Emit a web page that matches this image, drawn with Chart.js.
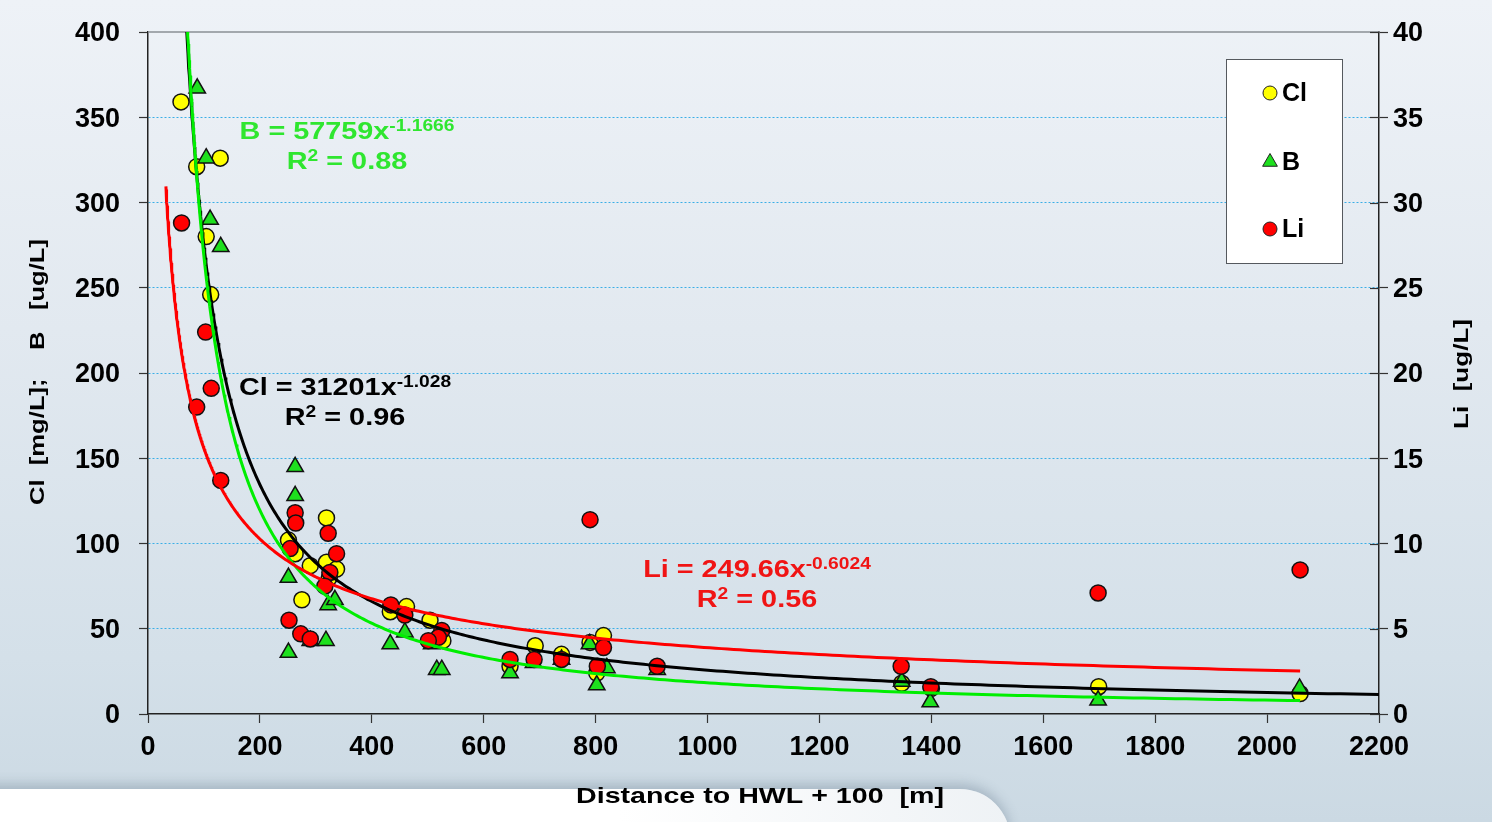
<!DOCTYPE html>
<html>
<head>
<meta charset="utf-8">
<title>Cl, B and Li versus distance to HWL</title>
<script src="https://cdn.jsdelivr.net/npm/chart.js@4.4.1/dist/chart.umd.min.js"></script>
<style>
  html, body { margin: 0; padding: 0; width: 1492px; height: 822px; overflow: hidden; }
  body {
    position: relative;
    background: linear-gradient(180deg, #eef2f7 0%, #e2e9f0 40%, #d4e0e9 80%, #cbd9e3 100%);
  }
  #band {
    position: absolute; left: -20px; top: 789px; width: 1030px; height: 140px;
    background: linear-gradient(90deg, #ffffff 0%, #ffffff 62%, #eef2f5 100%);
    border-top-right-radius: 50px;
    box-shadow: 0 -5px 12px rgba(70, 90, 110, 0.28);
  }
  #chart { position: absolute; left: 0; top: 0; }
</style>
</head>
<body>
<div id="band"></div>
<canvas id="chart" width="1492" height="822"></canvas>
<script>
// ---- Measured samples: distance (m) and concentration ----
const clX = [59, 87, 129, 104, 112, 251, 263, 290, 275, 319, 319, 337, 324, 433, 462, 504, 527, 647, 692, 739, 790, 814, 802, 1347, 1400, 1699, 2059];
const clY = [359, 321, 326, 280, 246, 102, 94, 87, 67, 115, 89, 85, 80, 60, 63, 55, 43, 28, 40, 35, 42, 46, 24, 18, 15, 16, 12];

const bX = [88, 104, 111, 130, 263, 263, 251, 251, 290, 318, 322, 334, 433, 459, 507, 516, 525, 647, 689, 739, 789, 802, 820, 910, 1347, 1398, 1698, 2058];
const bY = [367, 326, 290, 274, 145, 128, 80, 36, 43, 43, 64, 67, 41, 48, 41, 26, 26, 24, 30, 32, 41, 17, 27, 26, 19, 7, 8, 15];

const liX = [60, 103, 113, 87, 130, 263, 264, 254, 322, 337, 325, 316, 252, 273, 290, 434, 459, 525, 519, 501, 647, 690, 739, 814, 803, 790, 910, 1346, 1399, 1698, 2059];
const liY = [28.8, 22.4, 19.1, 18.0, 13.7, 11.8, 11.2, 9.7, 10.6, 9.4, 8.3, 7.5, 5.5, 4.7, 4.4, 6.4, 5.8, 4.9, 4.5, 4.3, 3.2, 3.2, 3.2, 3.9, 2.8, 11.4, 2.8, 2.8, 1.6, 7.1, 8.45];

// ---- Power-law fits y = a * x^b, with R² and the distance span of each curve ----
const clFit = [31201, -1.028];
const bFit = [57759, -1.1666];
const liFit = [249.66, -0.6024];
const fitR2 = ['0.96', '0.88', '0.56'];
const clSpan = [32, 2200];
const bSpan = [32, 2059];
const liSpan = [32, 2059];

// ---- Axis ticks ----
const xTicks = [0, 200, 400, 600, 800, 1000, 1200, 1400, 1600, 1800, 2000, 2200];
const leftTicks = [0, 50, 100, 150, 200, 250, 300, 350, 400];
const rightTicks = [0, 5, 10, 15, 20, 25, 30, 35, 40];

const FONT = '"Liberation Sans", Arial, sans-serif';

function toPoints(xs, ys) {
  return xs.map((x, i) => ({ x: x, y: ys[i] }));
}
function fitCurve(fit, span) {
  const out = [];
  const n = 400;
  for (let i = 0; i <= n; i++) {
    const x = span[0] * Math.pow(span[1] / span[0], i / n);
    out.push({ x: x, y: fit[0] * Math.pow(x, fit[1]) });
  }
  return out;
}

const GREEN_LINE = '#00ee00';
const GREEN_MARK = '#1ee01e';
const GREEN_TEXT = '#2fe62f';
const RED = '#ff0000';
const RED_TEXT = '#f01414';
const YELLOW = '#ffff00';

// Text drawn wide (stretched along its direction), centred on (x, y)
function wideText(ctx, text, x, y, size, k, rot) {
  ctx.save();
  ctx.translate(x, y);
  ctx.rotate(rot || 0);
  ctx.scale(k, 1);
  ctx.font = 'bold ' + size + 'px ' + FONT;
  ctx.fillStyle = '#000';
  ctx.textAlign = 'center';
  ctx.textBaseline = 'middle';
  ctx.fillText(text, 0, 0);
  ctx.restore();
}

// Extra drawing: top frame, inner right ticks, legend, fit equations, axis titles
const decor = {
  id: 'decor',
  beforeDatasetsDraw(chart) {
    const { ctx, chartArea: a, scales } = chart;
    ctx.save();
    ctx.strokeStyle = '#8a8f94';
    ctx.lineWidth = 1.5;
    ctx.beginPath();
    ctx.moveTo(a.left, a.top);
    ctx.lineTo(a.right, a.top);
    ctx.stroke();
    // right axis ticks also reach into the plot
    ctx.strokeStyle = '#333';
    ctx.lineWidth = 1.2;
    rightTicks.forEach(v => {
      const y = Math.round(scales.y2.getPixelForValue(v)) + 0.5;
      ctx.beginPath();
      ctx.moveTo(a.right - 9, y);
      ctx.lineTo(a.right, y);
      ctx.stroke();
    });
    ctx.restore();
  },
  afterDraw(chart) {
    const { ctx } = chart;
    ctx.save();

    // legend
    const lx = 1226.5, ly = 59.5, lw = 116, lh = 204;
    ctx.fillStyle = '#ffffff';
    ctx.fillRect(lx, ly, lw, lh);
    ctx.strokeStyle = '#55595e';
    ctx.lineWidth = 1;
    ctx.strokeRect(lx, ly, lw, lh);
    const items = [
      { t: 'Cl', style: 'circle', fill: YELLOW, y: 93, r: 7 },
      { t: 'B', style: 'triangle', fill: GREEN_MARK, y: 162, r: 8.5 },
      { t: 'Li', style: 'circle', fill: RED, y: 229, r: 7 }
    ];
    items.forEach(it => {
      ctx.fillStyle = it.fill;
      ctx.strokeStyle = '#222';
      ctx.lineWidth = 1;
      Chart.helpers.drawPoint(ctx, { pointStyle: it.style, radius: it.r, borderWidth: 1, rotation: 0 }, 1270, it.y);
      ctx.fillStyle = '#000';
      ctx.font = 'bold 25px ' + FONT;
      ctx.textBaseline = 'middle';
      ctx.textAlign = 'left';
      ctx.fillText(it.t, 1282, it.y + 1);
    });

    // fit equations: main text 24px, exponents 16px, stretched 1.2x
    const K = 1.2;
    function line(parts, cx, cy, color) {
      const big = 'bold 24px ' + FONT, small = 'bold 16px ' + FONT;
      let w = 0;
      parts.forEach(p => { ctx.font = p.s ? small : big; w += ctx.measureText(p.t).width; });
      ctx.save();
      ctx.translate(cx - (w * K) / 2, cy + 8.5);
      ctx.scale(K, 1);
      ctx.fillStyle = color;
      ctx.textAlign = 'left';
      ctx.textBaseline = 'alphabetic';
      let x = 0;
      parts.forEach(p => {
        ctx.font = p.s ? small : big;
        ctx.fillText(p.t, x, p.s ? -8 : 0);
        x += ctx.measureText(p.t).width;
      });
      ctx.restore();
    }
    function equation(name, fit, r2, cx, cy, color) {
      line([{ t: name + ' = ' + fit[0] + 'x' }, { t: String(fit[1]), s: true }], cx, cy, color);
      line([{ t: 'R' }, { t: '2', s: true }, { t: ' = ' + r2 }], cx, cy + 30, color);
    }
    equation('B', bFit, fitR2[1], 347, 130, GREEN_TEXT);
    equation('Cl', clFit, fitR2[0], 345, 386, '#000');
    equation('Li', liFit, fitR2[2], 757, 568, RED_TEXT);

    // axis titles
    wideText(ctx, 'Distance to HWL + 100  [m]', 760, 797, 22, 1.3, 0);
    wideText(ctx, 'Cl  [mg/L];    B   [ug/L]', 38, 372, 21, 1.22, -Math.PI / 2);
    wideText(ctx, 'Li  [ug/L]', 1462, 374, 21, 1.24, -Math.PI / 2);
    ctx.restore();
  }
};

const tickFont = { family: FONT, size: 27, weight: 'bold' };
const plainTick = v => String(v);
// fixed axis band sizes; label overhang must not push the plot area
function fixVertical(width) {
  return s => { s.width = width; s.paddingTop = 0; s.paddingBottom = 0; };
}

new Chart(document.getElementById('chart'), {
  type: 'scatter',
  data: {
    datasets: [
      { label: 'Li fit', data: fitCurve(liFit, liSpan), yAxisID: 'y2', showLine: true, borderColor: RED, borderWidth: 3, pointRadius: 0, order: 1 },
      { label: 'B fit', data: fitCurve(bFit, bSpan), yAxisID: 'y', showLine: true, borderColor: GREEN_LINE, borderWidth: 3, pointRadius: 0, order: 2 },
      { label: 'Cl fit', data: fitCurve(clFit, clSpan), yAxisID: 'y', showLine: true, borderColor: '#000', borderWidth: 3, pointRadius: 0, order: 3 },
      { label: 'Li', data: toPoints(liX, liY), yAxisID: 'y2', pointStyle: 'circle', pointRadius: 8, backgroundColor: RED, borderColor: '#111', borderWidth: 1.5, order: 4 },
      { label: 'B', data: toPoints(bX, bY), yAxisID: 'y', pointStyle: 'triangle', pointRadius: 9.5, backgroundColor: GREEN_MARK, borderColor: '#111', borderWidth: 1.5, order: 5 },
      { label: 'Cl', data: toPoints(clX, clY), yAxisID: 'y', pointStyle: 'circle', pointRadius: 8, backgroundColor: YELLOW, borderColor: '#111', borderWidth: 1.5, order: 6 }
    ]
  },
  options: {
    responsive: false,
    animation: false,
    devicePixelRatio: 1,
    layout: { padding: { top: 32, left: 0, right: 0, bottom: 0 } },
    plugins: { legend: { display: false }, tooltip: { enabled: false } },
    scales: {
      x: {
        type: 'linear', position: 'bottom', min: xTicks[0], max: xTicks[xTicks.length - 1],
        afterBuildTicks: s => { s.ticks = xTicks.map(v => ({ value: v })); },
        ticks: { font: tickFont, color: '#000', padding: 8, maxRotation: 0, autoSkip: false, callback: plainTick },
        grid: { drawOnChartArea: false, tickLength: 9, tickColor: '#333', tickWidth: 1.2 },
        border: { color: '#222', width: 1.5 },
        afterFit: s => { s.height = 108; }
      },
      y: {
        type: 'linear', position: 'left', min: leftTicks[0], max: leftTicks[leftTicks.length - 1],
        afterBuildTicks: s => { s.ticks = leftTicks.map(v => ({ value: v })); },
        ticks: { font: tickFont, color: '#000', padding: 19, labelOffset: 2, callback: plainTick },
        grid: {
          color: c => (c.tick && (c.tick.value === 0 || c.tick.value === 400)) ? 'rgba(0,0,0,0)' : '#3aaee6',
          lineWidth: 1, tickLength: 9, tickColor: '#333', tickWidth: 1.2, tickBorderDash: []
        },
        border: { color: '#222', width: 1.5, dash: [2, 2] },
        afterFit: fixVertical(148)
      },
      y2: {
        type: 'linear', position: 'right', min: rightTicks[0], max: rightTicks[rightTicks.length - 1],
        afterBuildTicks: s => { s.ticks = rightTicks.map(v => ({ value: v })); },
        ticks: { font: tickFont, color: '#000', padding: 5, labelOffset: 2, callback: plainTick },
        grid: { drawOnChartArea: false, tickLength: 9, tickColor: '#333', tickWidth: 1.2 },
        border: { color: '#222', width: 1.5 },
        afterFit: fixVertical(113)
      }
    }
  },
  plugins: [decor]
});
</script>
</body>
</html>
